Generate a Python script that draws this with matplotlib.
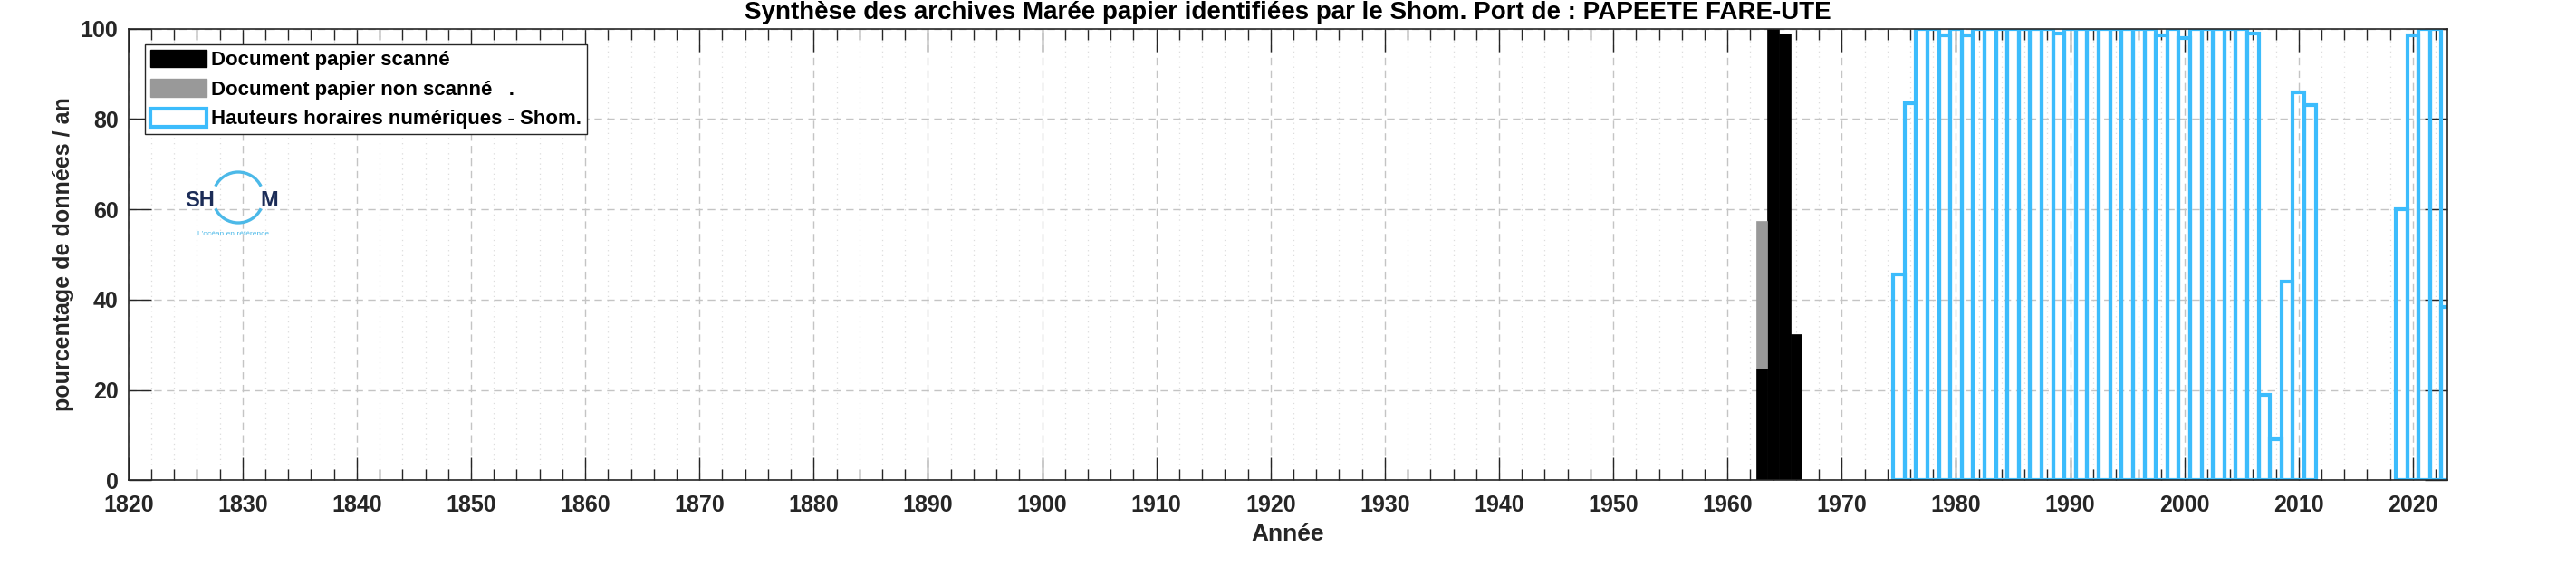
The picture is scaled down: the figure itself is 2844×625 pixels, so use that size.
import matplotlib.pyplot as plt
from matplotlib.patches import Patch, Arc
from matplotlib.ticker import MultipleLocator

plt.rcParams['font.family'] = ['Liberation Sans', 'DejaVu Sans']
plt.rcParams['font.weight'] = 'bold'

# documents papier : scanné (noir) et non scanné (gris, empilé au-dessus)
scan_years = [1963, 1964, 1965, 1966]
scan_pct = [24.7, 100, 99, 32.3]
nonscan_years = [1963]
nonscan_pct = [32.7]

# hauteurs horaires numériques Shom
num_years = list(range(1975, 2012)) + [2019, 2020, 2021, 2022, 2023]
num_pct = [45.5, 83.4, 100, 100, 98.5, 100, 98.5,
           100, 100, 100, 100, 100, 100, 100,        # 1982-1988
           99,
           100, 100, 100, 100, 100, 100, 100, 100,   # 1990-1997
           98.5, 100, 98,
           100, 100, 100, 100, 100,                  # 2001-2005
           99, 19, 9, 44, 86, 83,
           60, 98.5, 100, 100, 38.3]

blue = '#3cbcfc'
grey = '#999999'
dark = '#262626'

fig = plt.figure(figsize=(28.44, 6.25), dpi=100)
ax = fig.add_axes([141.7/2844, 1-530.3/625, 2560/2844, 498.6/625])

ax.bar(scan_years, scan_pct, width=1, color='black', edgecolor='black', linewidth=0.5)
ax.bar(nonscan_years, nonscan_pct, width=1, bottom=scan_pct[0], color=grey, edgecolor=grey, linewidth=0.5)
ax.bar(num_years, num_pct, width=1, facecolor='none', edgecolor=blue, linewidth=3.0)

ax.set_xlim(1820, 2023)
ax.set_ylim(0, 100)
ax.xaxis.set_major_locator(MultipleLocator(10))
ax.xaxis.set_minor_locator(MultipleLocator(2))
ax.yaxis.set_major_locator(MultipleLocator(20))
ax.set_axisbelow(True)
ax.grid(which='major', linestyle=(0, (6, 4)), color='#c4c4c4', linewidth=1)
ax.grid(which='minor', axis='x', linestyle=(0, (1, 3.5)), color='#dcdcdc', linewidth=0.9)

ax.tick_params(which='major', direction='in', length=18, width=1, top=True, right=True,
               labelsize=18, colors=dark, pad=8)
ax.tick_params(which='minor', direction='in', length=8.6, width=1, top=True, color=dark)
ax.tick_params(axis='x', which='major', pad=11)
for sp in ax.spines.values():
    sp.set_color(dark)
    sp.set_linewidth(1.2)

ax.set_title('Synthèse des archives Marée papier identifiées par le Shom. Port de : PAPEETE FARE-UTE',
             fontsize=20, fontweight='bold', pad=8)
ax.set_xlabel('Année', fontsize=19, fontweight='bold', color=dark, labelpad=6)
ax.set_ylabel('pourcentage de données / an', fontsize=18, fontweight='bold', color=dark, labelpad=5)

handles = [Patch(facecolor='black', edgecolor='black'),
           Patch(facecolor=grey, edgecolor=grey),
           Patch(facecolor='white', edgecolor=blue, linewidth=3)]
labels = ['Document papier scanné', 'Document papier non scanné   .', 'Hauteurs horaires numériques - Shom.']
leg = ax.legend(handles, labels, loc='upper left', bbox_to_anchor=(0.00715, 0.9653),
                borderaxespad=0, fontsize=16, fancybox=False, framealpha=1,
                handlelength=2.8, handleheight=1.0, handletextpad=0.25,
                borderpad=0.25, labelspacing=0.45)
leg.get_frame().set_edgecolor(dark)
leg.get_frame().set_linewidth(1)

# logo Shom
lg = fig.add_axes([195/2844, 1-265/625, 120/2844, 85/625])
lg.set_xlim(0, 120)
lg.set_ylim(0, 85)
lg.axis('off')
navy = '#1b2c57'
lblue = '#4cb9e8'
lg.text(9, 37, 'SH', fontsize=17, color=navy, fontweight='bold', va='baseline', ha='left')
lg.text(92, 37, 'M', fontsize=17, color=navy, fontweight='bold', va='baseline', ha='left')
lg.add_patch(Arc((68, 47), 56, 56, theta1=26, theta2=154, color=lblue, linewidth=2.4))
lg.add_patch(Arc((68, 47), 56, 56, theta1=206, theta2=334, color=lblue, linewidth=2.4))
lg.text(62, 5, "L'océan en référence", fontsize=6, color=lblue, fontweight='normal', ha='center', va='baseline')

plt.savefig('out.png', dpi=100)
